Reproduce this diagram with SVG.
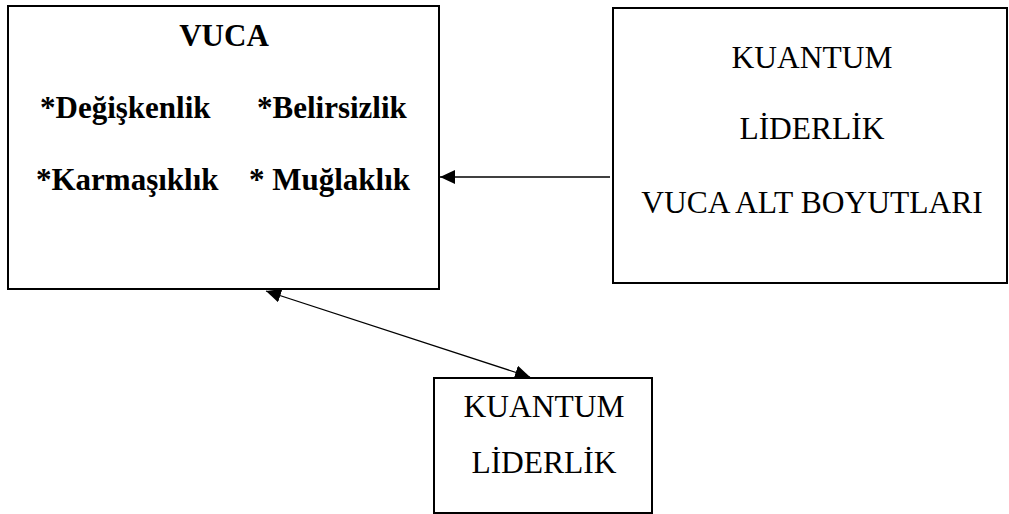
<svg xmlns="http://www.w3.org/2000/svg" width="1009" height="514" viewBox="0 0 1009 514">
<style>
.box{fill:#fff;stroke:#000;stroke-width:2}
.b{font-family:"Liberation Serif","Times New Roman",serif;font-weight:bold;font-size:31px;fill:#000}
.r{font-family:"Liberation Serif","Times New Roman",serif;font-size:31.5px;fill:#000;text-anchor:middle}
.c{stroke:#000;stroke-width:1.3;fill:none}
</style>
<defs>
<marker id="ah" markerUnits="userSpaceOnUse" markerWidth="16" markerHeight="14" refX="15" refY="7" orient="auto-start-reverse">
<path d="M0,0 L15,7 L0,14 z" fill="#000"/>
</marker>
</defs>
<rect width="1009" height="514" fill="#fff"/>
<g id="vuca">
<rect class="box" x="8" y="6" width="431" height="283"/>
<text class="b" x="224" y="46" text-anchor="middle">VUCA</text>
<text class="b" x="40" y="118">*Değişkenlik</text>
<text class="b" x="257" y="118">*Belirsizlik</text>
<text class="b" x="36" y="190">*Karmaşıklık</text>
<text class="b" x="249" y="190">* Muğlaklık</text>
</g>
<g id="kuantum-vuca">
<rect class="box" x="613" y="8" width="394" height="275"/>
<text class="r" x="812" y="68">KUANTUM</text>
<text class="r" x="812" y="139">LİDERLİK</text>
<text class="r" x="812" y="213">VUCA ALT BOYUTLARI</text>
</g>
<g id="kuantum">
<rect class="box" x="434" y="378" width="218" height="135"/>
<text class="r" x="544" y="417">KUANTUM</text>
<text class="r" x="544" y="473">LİDERLİK</text>
</g>
<g id="connectors">
<line class="c" x1="610" y1="177" x2="440" y2="177" marker-end="url(#ah)"/>
<line class="c" x1="266" y1="291" x2="530" y2="377" marker-start="url(#ah)" marker-end="url(#ah)"/>
</g>
</svg>
